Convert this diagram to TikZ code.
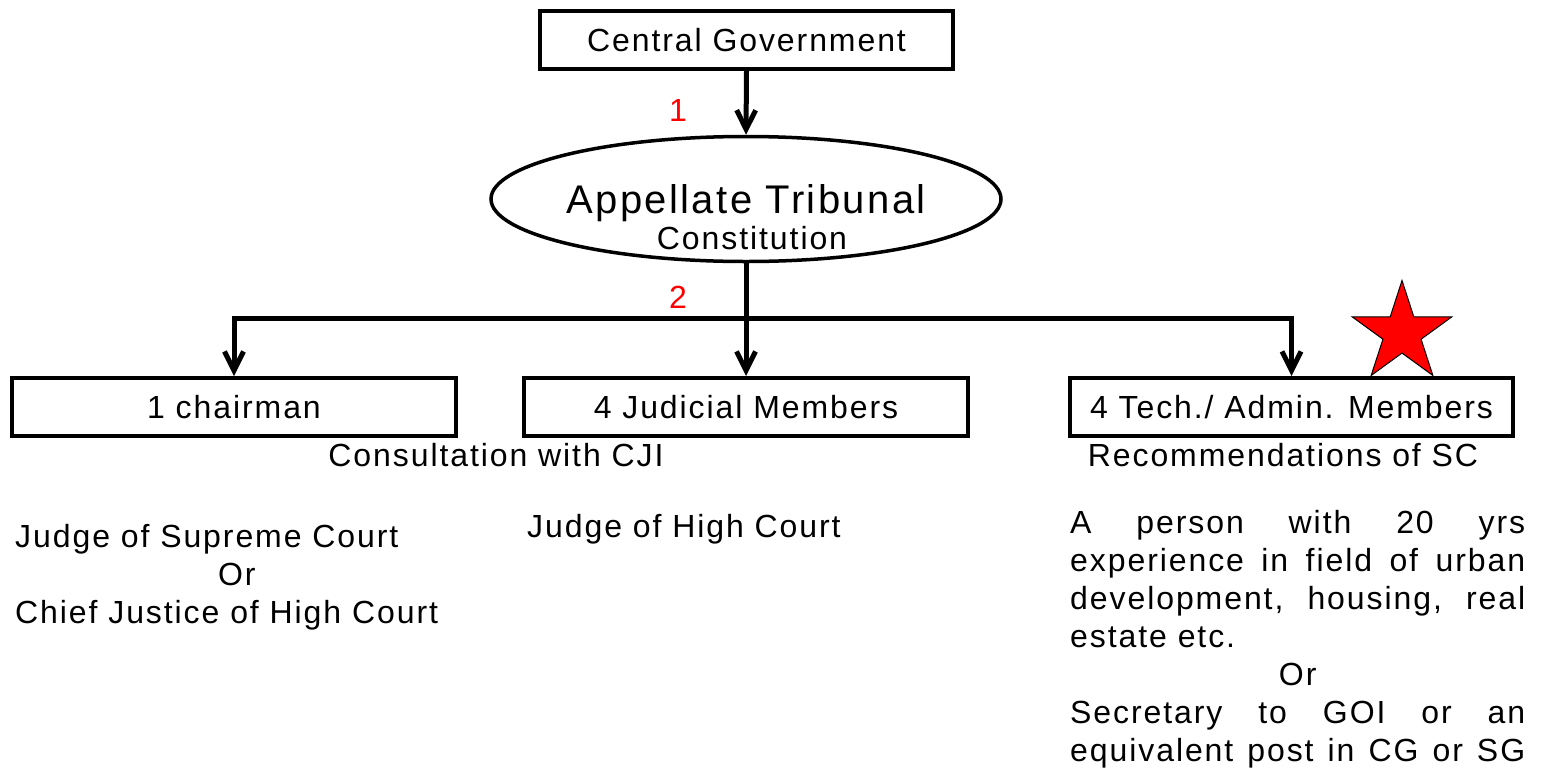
\documentclass[tikz,border=0pt]{standalone}
\usepackage{fontspec}
\setmainfont{Liberation Sans}[LetterSpace=6]
\usetikzlibrary{shapes.geometric,arrows.meta}
\begin{document}
\begin{tikzpicture}[x=1pt,y=-1pt,
  txt/.style={inner sep=0pt,font=\fontsize{32}{38}\selectfont},
  box/.style={draw,line width=4pt,minimum height=58pt,inner sep=0pt,text height=23pt,text depth=0pt,font=\fontsize{32}{38}\selectfont},
  conn/.style={line width=5pt,-{Straight Barb[length=19pt,width=19pt]}},
  lnk/.style={line width=5pt},
  num/.style={inner sep=0pt,text=red,font=\fontsize{32}{38}\selectfont}]
\useasboundingbox (0,0) rectangle (1548,769);
% top box
\node[box,minimum width=413pt] (cg) at (746.5,40) {Central Government};
% ellipse
\node[ellipse,draw,line width=3.5pt,minimum width=510pt,minimum height=125pt,inner sep=0pt] (tri) at (746,199) {};
\node[inner sep=0pt,anchor=base,font=\fontsize{40}{48}\selectfont] (tt) at (746,213) {Appellate Tribunal};
\node[txt,anchor=base] (tc) at (752,249) {Constitution};
% lower boxes
\node[box,minimum width=444pt] (b1) at (234,407) {1 chairman};
\node[box,minimum width=444pt] (b2) at (746,407) {4 Judicial Members};
\node[box,minimum width=443pt] (b3) at (1291.5,407) {4 Tech./ Admin. Members};
% connectors
\draw[conn] (cg.south) -- (tri.north);
\coordinate (j) at (746,318);
\draw[lnk] (tri.south) -- (j);
\draw[conn] (j) -| (b1.north);
\draw[conn] (j) -| (b3.north);
\draw[conn] (j) -- (b2.north);
\node[num,anchor=base] (n1) at (678,121.5) {1};
\node[num,anchor=base] (n2) at (678,308.5) {2};
% star
\node[star,star points=5,star point ratio=2.618,minimum size=105pt,inner sep=0pt,draw,line width=1pt,fill=red] (st) at (1402,333) {};
% captions
\node[txt,anchor=base] (cji) at (496,466.5) {Consultation with CJI};
\node[txt,anchor=base] (rsc) at (1283,466.5) {Recommendations of SC};
% details
\node[txt,anchor=base west] (d1) at (15,547.5) {\parbox[t]{470pt}{\fontsize{32}{38}\selectfont\raggedright Judge of Supreme Court\\\hspace*{203pt}Or\\Chief Justice of High Court}};
\node[txt,anchor=base west] (d2) at (527,537.5) {Judge of High Court};
\node[txt,anchor=base west] (d3) at (1070,533.5) {\parbox[t]{455pt}{\fontsize{32}{38}\selectfont\hyphenpenalty=10000\tolerance=10000
A person with 20 yrs\linebreak experience in field of urban\linebreak development, housing, real\linebreak estate etc.\par
{\centering Or\par}
{\parfillskip=0pt Secretary to GOI or an\linebreak equivalent post in CG or SG\par}}};
\end{tikzpicture}
\end{document}
